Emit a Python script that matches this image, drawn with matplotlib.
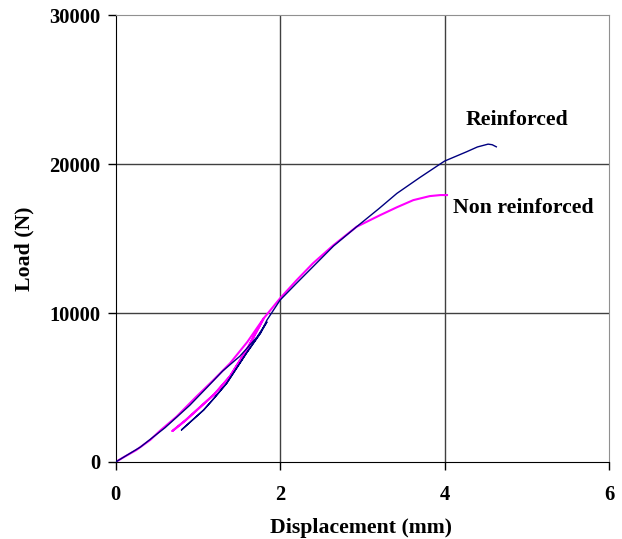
import matplotlib
matplotlib.use("Agg")
import matplotlib.pyplot as plt

# Non reinforced: loading, unloading, reloading, then on to failure
nr_disp = [0.0, 0.1, 0.25, 0.42, 0.54, 0.74, 0.98, 1.18, 1.39, 1.60, 1.80,
           1.60, 1.39, 1.20, 1.03, 0.85, 0.69,
           0.85, 1.03, 1.20, 1.39, 1.60, 1.80, 2.0, 2.2, 2.40, 2.65, 2.93,
           3.22, 3.42, 3.62, 3.82, 3.95, 4.03]
nr_load = [0, 330, 800, 1480, 2100, 3040, 4380, 5450, 6620, 8050, 9640,
           7600, 5750, 4550, 3700, 2800, 2080,
           2800, 3700, 4550, 5750, 7600, 9640, 10990, 12200, 13340, 14560, 15790,
           16580, 17100, 17580, 17850, 17920, 17920]

# Reinforced
r_disp = [0.0, 0.3, 0.6, 0.9, 1.11, 1.30, 1.51, 1.72, 1.84,
          1.76, 1.59, 1.35, 1.20, 1.07, 0.80,
          1.07, 1.20, 1.35, 1.59, 1.76, 1.84, 2.0, 2.2, 2.40, 2.65, 2.93,
          3.2, 3.42, 3.7, 4.0, 4.27, 4.4, 4.53, 4.58, 4.63]
r_load = [0, 1000, 2300, 3800, 5000, 6100, 7100, 8400, 9400,
          8640, 7300, 5280, 4300, 3490, 2150,
          3490, 4300, 5280, 7300, 8640, 9530, 10870, 12000, 13110, 14500, 15790,
          17000, 18030, 19100, 20200, 20830, 21150, 21340, 21300, 21160]

x_ticks = [0, 2, 4, 6]
y_ticks = [0, 10000, 20000, 30000]

plt.rcParams['font.family'] = ['Liberation Serif', 'DejaVu Serif']
plt.rcParams['font.weight'] = 'bold'

fig = plt.figure(figsize=(6.22, 5.39), dpi=100)
ax = fig.add_axes([0.186, 0.1429, 0.793, 0.829])

for x in x_ticks[1:-1]:
    ax.axvline(x, color='#404040', lw=1.0, zorder=1)
for y in y_ticks[1:-1]:
    ax.axhline(y, color='#404040', lw=1.0, zorder=1)

ax.plot(r_disp, r_load, color='#000080', lw=1.0, zorder=3)
ax.plot(nr_disp, nr_load, color='#FF00FF', lw=1.5, zorder=2)

ax.set_xlim(0, 6)
ax.set_ylim(0, 30000)
ax.set_xticks(x_ticks)
ax.set_yticks(y_ticks)
ax.tick_params(direction='out', length=5.8, width=1, labelsize=14.8, pad=5)
ax.tick_params(axis='x', pad=10.5)
for lab in ax.get_xticklabels() + ax.get_yticklabels():
    lab.set_fontweight('bold')

ax.spines['left'].set_color('black')
ax.spines['bottom'].set_color('black')
ax.spines['top'].set_color('#909090')
ax.spines['right'].set_color('#909090')

ax.set_xlabel('Displacement (mm)', fontsize=15.7, fontweight='bold')
ax.set_ylabel('Load (N)', fontsize=15.7, fontweight='bold')
ax.xaxis.set_label_coords(0.498, -0.125)
ax.yaxis.set_label_coords(-0.165, 0.4765)

ax.text(4.88, 22620, 'Reinforced', fontsize=15.7, fontweight='bold',
        ha='center', va='baseline')
ax.text(4.107, 16710, 'Non reinforced', fontsize=15.7, fontweight='bold',
        ha='left', va='baseline')

fig.savefig('out.png', dpi=100)
